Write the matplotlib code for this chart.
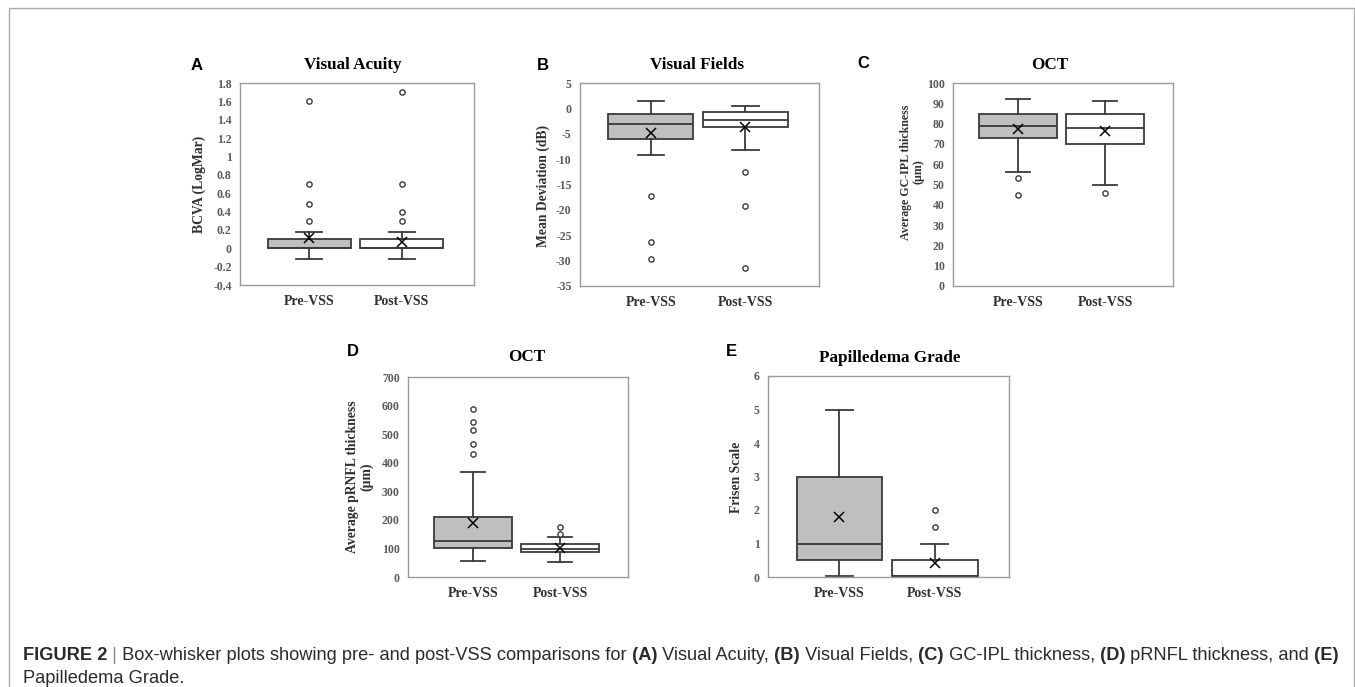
import matplotlib
matplotlib.use("Agg")
import matplotlib.pyplot as plt
from matplotlib.patches import Rectangle

# ---- data: [whisker low, Q1, median, Q3, whisker high] for Pre-VSS / Post-VSS
groups = ["Pre-VSS", "Post-VSS"]

va_five = [[-0.12, 0.0, 0.0, 0.10, 0.18], [-0.12, 0.0, 0.0, 0.10, 0.18]]
va_mean = [0.11, 0.07]
va_out = [[1.6, 0.7, 0.48, 0.3], [1.7, 0.7, 0.4, 0.3]]
va_ticks = [-0.4, -0.2, 0, 0.2, 0.4, 0.6, 0.8, 1, 1.2, 1.4, 1.6, 1.8]

vf_five = [[-9.2, -6.1, -3.0, -1.2, 1.5], [-8.3, -3.7, -2.2, -0.7, 0.5]]
vf_mean = [-4.8, -3.6]
vf_out = [[-17.2, -26.4, -29.6], [-12.6, -19.2, -31.5]]
vf_ticks = [-35, -30, -25, -20, -15, -10, -5, 0, 5]

gc_five = [[56, 73, 79, 84.5, 92], [50, 70, 78, 84.5, 91]]
gc_mean = [77.5, 76.2]
gc_out = [[53, 45], [46]]
gc_ticks = [0, 10, 20, 30, 40, 50, 60, 70, 80, 90, 100]

rn_five = [[57, 103, 125, 211, 369], [51, 88, 98, 114, 141]]
rn_mean = [190, 102]
rn_out = [[588, 542, 513, 464, 431], [174, 152]]
rn_ticks = [0, 100, 200, 300, 400, 500, 600, 700]

pg_five = [[0.03, 0.5, 1.0, 3.0, 5.0], [0.03, 0.03, 0.03, 0.5, 1.0]]
pg_mean = [1.78, 0.42]
pg_out = [[], [2.0, 1.5]]
pg_ticks = [0, 1, 2, 3, 4, 5, 6]

W, H = 1355, 687
EDGE = "#3a3a3a"
TICKC = "#595959"
LABC = "#303030"
SERIF = "Liberation Serif"
SANS = "Liberation Sans"

plt.rcParams["font.family"] = SERIF
plt.rcParams["font.weight"] = "bold"

fig = plt.figure(figsize=(W / 100, H / 100), dpi=100)


def px_axes(x0, y0, x1, y1):
    return fig.add_axes([x0 / W, 1 - y1 / H, (x1 - x0) / W, (y1 - y0) / H])


def ftext(x, y, s, **kw):
    return fig.text(x / W, 1 - y / H, s, **kw)


def box_panel(rect, five, means, outs, ticks, letter, letter_xy, title, title_xy,
              ylabel, ylabel_xy, ylabel_size=9.8):
    ax = px_axes(*rect)
    stats = [dict(whislo=f[0], q1=f[1], med=f[2], q3=f[3], whishi=f[4], mean=m, fliers=o)
             for f, m, o in zip(five, means, outs)]
    bp = ax.bxp(stats, positions=[1, 2], widths=0.9, capwidths=0.28, patch_artist=True,
                showmeans=True, manage_ticks=False,
                boxprops=dict(edgecolor=EDGE, linewidth=1.3),
                whiskerprops=dict(color=EDGE, linewidth=1.3),
                capprops=dict(color=EDGE, linewidth=1.3),
                medianprops=dict(color=EDGE, linewidth=1.3),
                meanprops=dict(marker="x", markeredgecolor="black", markersize=7, markeredgewidth=1.1),
                flierprops=dict(marker="o", markerfacecolor="white", markeredgecolor=EDGE,
                                markersize=3.8, markeredgewidth=1.0))
    for patch, fc in zip(bp["boxes"], ["#bfbfbf", "white"]):
        patch.set_facecolor(fc)
    ax.set_xlim(0.25, 2.78)
    ax.set_ylim(ticks[0], ticks[-1])
    ax.set_yticks(ticks)
    ax.set_yticklabels([f"{t:g}" for t in ticks], fontsize=8.5, color=TICKC, fontweight="bold")
    ax.set_xticks([1, 2])
    ax.set_xticklabels(groups, fontsize=10, color=LABC, fontweight="bold")
    ax.tick_params(axis="y", length=0, pad=6)
    ax.tick_params(axis="x", length=0, pad=7)
    for sp in ax.spines.values():
        sp.set_color("#9a9a9a")
        sp.set_linewidth(1.0)
    ftext(*letter_xy, letter, family=SANS, fontsize=12, fontweight="bold", color="black",
          ha="center", va="center")
    ftext(*title_xy, title, fontsize=12.3, fontweight="bold", color="black", ha="center", va="center")
    ftext(*ylabel_xy, ylabel, fontsize=ylabel_size, fontweight="bold", color=LABC, rotation=90,
          ha="center", va="center", multialignment="center", linespacing=1.1)
    return ax


box_panel((240, 83, 474, 285), va_five, va_mean, va_out, va_ticks,
          "A", (197, 65), "Visual Acuity", (353, 65), "BCVA (LogMar)", (199, 184))
box_panel((580, 83, 819, 286), vf_five, vf_mean, vf_out, vf_ticks,
          "B", (543, 65), "Visual Fields", (697, 65), "Mean Deviation (dB)", (543, 186))
box_panel((953, 83, 1173, 286), gc_five, gc_mean, gc_out, gc_ticks,
          "C", (863, 64), "OCT", (1050, 65), "Average GC-IPL thickness\n(\u00b5m)", (912, 172),
          ylabel_size=8.6)
box_panel((408, 377, 628, 577), rn_five, rn_mean, rn_out, rn_ticks,
          "D", (353, 352), "OCT", (527, 357), "Average pRNFL thickness\n(\u00b5m)", (360, 477))
box_panel((768, 376, 1009, 577), pg_five, pg_mean, pg_out, pg_ticks,
          "E", (731, 352), "Papilledema Grade", (890, 358), "Frisen Scale", (737, 477))

# outer frame of the figure
fig.add_artist(Rectangle((9 / W, -0.05), (1354 - 9) / W, 1 - 8 / H + 0.05, transform=fig.transFigure,
                         fill=False, edgecolor="#ababab", linewidth=1.0))

# caption with mixed bold / regular runs
cax = fig.add_axes([0, 0, 1, 1])
cax.axis("off")
CAPC = "#2b2b2b"
line1 = [("FIGURE 2", "bold", CAPC), (" |", "normal", "#8a8a8a"),
         (" Box-whisker plots showing pre- and post-VSS comparisons for", "normal", CAPC),
         (" (A)", "bold", CAPC), (" Visual Acuity,", "normal", CAPC),
         (" (B)", "bold", CAPC), (" Visual Fields,", "normal", CAPC),
         (" (C)", "bold", CAPC), (" GC-IPL thickness,", "normal", CAPC),
         (" (D)", "bold", CAPC), (" pRNFL thickness, and", "normal", CAPC),
         (" (E)", "bold", CAPC)]
base1 = 1 - 660 / H
cap_texts = []
prev = cax.text(23 / W, base1, line1[0][0], transform=fig.transFigure, family=SANS,
                fontweight=line1[0][1], color=line1[0][2], fontsize=11, va="baseline", ha="left")
cap_texts.append(prev)
for s, wgt, col in line1[1:]:
    prev = cax.annotate(s, xy=(1, base1), xycoords=(prev, "figure fraction"), family=SANS,
                        fontweight=wgt, color=col, fontsize=11, va="baseline", ha="left")
    cap_texts.append(prev)
line2 = cax.text(23 / W, 1 - 683 / H, "Papilledema Grade.", transform=fig.transFigure, family=SANS,
                 fontweight="normal", color=CAPC, fontsize=11, va="baseline", ha="left")

# stretch the caption font so the first line spans the same width as the reference
fig.canvas.draw()
r = fig.canvas.get_renderer()
x_end = cap_texts[-1].get_window_extent(r).x1
scale = (1334 - 23) / (x_end - 23)
for t in cap_texts + [line2]:
    t.set_fontsize(11 * scale)

fig.savefig("out.png", dpi=100)
